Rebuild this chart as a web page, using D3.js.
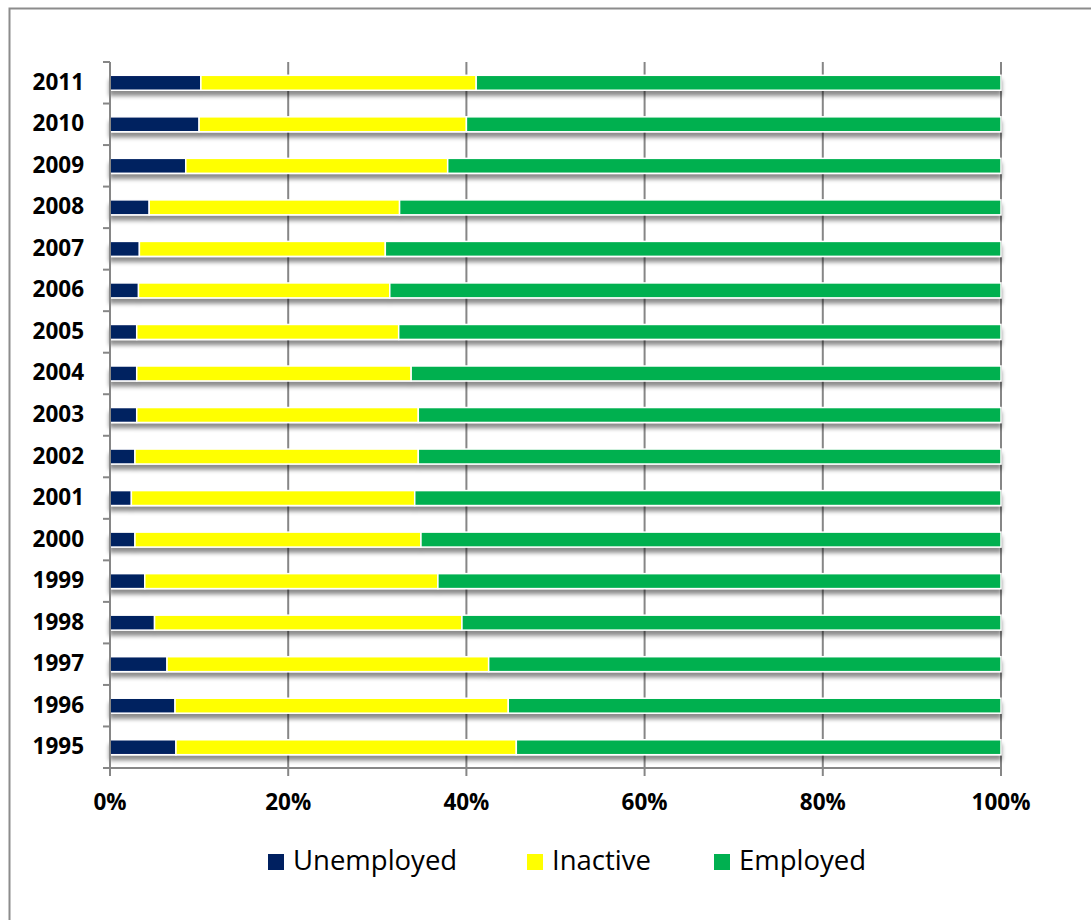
<!DOCTYPE html>
<html>
<head>
<meta charset="utf-8">
<script src="https://cdn.jsdelivr.net/npm/d3@7"></script>
<style>
  html, body { margin: 0; padding: 0; background: #fff; }
  svg { display: block; }
  text { font-family: "Open Sans", "Liberation Sans", sans-serif; }
</style>
</head>
<body>
<svg id="chart" width="1091" height="920"></svg>
<script>
const years = ["1995","1996","1997","1998","1999","2000","2001","2002","2003","2004","2005","2006","2007","2008","2009","2010","2011"];
const unemployed = [7.4, 7.3, 6.4, 5.0, 3.9, 2.8, 2.4, 2.8, 3.0, 3.0, 3.0, 3.2, 3.3, 4.4, 8.5, 10.0, 10.2];
const inactive   = [38.2, 37.4, 36.1, 34.5, 32.9, 32.1, 31.8, 31.8, 31.6, 30.8, 29.4, 28.2, 27.6, 28.1, 29.4, 30.0, 30.9];
const employed   = [54.4, 55.3, 57.5, 60.5, 63.2, 65.1, 65.8, 65.4, 65.4, 66.2, 67.6, 68.6, 69.1, 67.5, 62.1, 60.0, 58.9];
const seriesNames = ["Unemployed", "Inactive", "Employed"];
const seriesColors = ["#002060", "#FFFF00", "#00B050"];
const xTicks = [0, 0.2, 0.4, 0.6, 0.8, 1.0];

const svg = d3.select("#chart");

// outer chart border
svg.append("rect")
  .attr("x", 9.5).attr("y", 8.5)
  .attr("width", 1200).attr("height", 1000)
  .attr("fill", "none").attr("stroke", "#8c8c8c").attr("stroke-width", 2);

const defs = svg.append("defs");
const f = defs.append("filter").attr("id", "shadow")
  .attr("x", "-5%").attr("y", "-50%").attr("width", "110%").attr("height", "250%");
f.append("feDropShadow").attr("dx", 0).attr("dy", 5).attr("stdDeviation", 2.2)
  .attr("flood-color", "#000").attr("flood-opacity", 0.45);

const pLeft = 110, pRight = 1001, pTop = 62, pBottom = 768;

const x = d3.scaleLinear().domain([0, 1]).range([pLeft, pRight]);
const y = d3.scaleBand().domain(years.slice().reverse()).range([pTop, pBottom]).paddingInner(0.64).paddingOuter(0.32);
const yBand = d3.scaleBand().domain(years.slice().reverse()).range([pTop, pBottom]);

const rows = years.map((yr, i) => ({
  year: yr,
  Unemployed: unemployed[i] / 100,
  Inactive: inactive[i] / 100,
  Employed: employed[i] / 100
}));
const stacked = d3.stack().keys(seriesNames)(rows);

// gridlines
svg.append("g")
  .selectAll("line")
  .data(xTicks.slice(1))
  .join("line")
  .attr("x1", d => x(d)).attr("x2", d => x(d))
  .attr("y1", pTop).attr("y2", pBottom)
  .attr("stroke", "#868686").attr("stroke-width", 2);

// bars
const rowG = svg.append("g").selectAll("g.row")
  .data(rows)
  .join("g").attr("class", "row")
  .attr("filter", "url(#shadow)");

rowG.each(function(d, ri) {
  const g = d3.select(this);
  stacked.forEach((layer, si) => {
    const seg = layer[ri];
    g.append("rect")
      .attr("x", x(seg[0]))
      .attr("y", y(d.year))
      .attr("width", Math.max(0, x(seg[1]) - x(seg[0])))
      .attr("height", y.bandwidth())
      .attr("fill", seriesColors[si])
      .attr("stroke", "#ffffff")
      .attr("stroke-width", 1.5);
  });
});

// y axis
const yAxisG = svg.append("g");
yAxisG.append("line")
  .attr("x1", pLeft).attr("x2", pLeft).attr("y1", pTop).attr("y2", pBottom)
  .attr("stroke", "#868686").attr("stroke-width", 2);
const yBounds = years.slice().reverse().map(yr => yBand(yr)).concat([pBottom]);
yAxisG.selectAll("line.tick")
  .data(yBounds)
  .join("line").attr("class", "tick")
  .attr("x1", pLeft - 7).attr("x2", pLeft)
  .attr("y1", d => d).attr("y2", d => d)
  .attr("stroke", "#868686").attr("stroke-width", 2);
yAxisG.selectAll("text")
  .data(years)
  .join("text")
  .attr("x", 84)
  .attr("y", d => yBand(d) + yBand.bandwidth() / 2 + 1)
  .attr("text-anchor", "end")
  .attr("dominant-baseline", "middle")
  .attr("font-size", 22.5)
  .attr("font-weight", "bold")
  .attr("fill", "#000")
  .text(d => d);

// x axis
const xAxisG = svg.append("g");
xAxisG.append("line")
  .attr("x1", pLeft - 7).attr("x2", pRight).attr("y1", pBottom).attr("y2", pBottom)
  .attr("stroke", "#868686").attr("stroke-width", 2);
xAxisG.selectAll("line.tick")
  .data(xTicks)
  .join("line").attr("class", "tick")
  .attr("x1", d => x(d)).attr("x2", d => x(d))
  .attr("y1", pBottom).attr("y2", pBottom + 8)
  .attr("stroke", "#868686").attr("stroke-width", 2);
xAxisG.selectAll("text")
  .data(xTicks)
  .join("text")
  .attr("x", d => x(d))
  .attr("y", 810)
  .attr("text-anchor", "middle")
  .attr("font-size", 22.5)
  .attr("font-weight", "bold")
  .attr("fill", "#000")
  .text(d => d3.format(".0%")(d));

// legend
const legendX = [268, 527, 714];
const lg = svg.append("g");
seriesNames.forEach((name, i) => {
  lg.append("rect")
    .attr("x", legendX[i]).attr("y", 854)
    .attr("width", 16).attr("height", 16)
    .attr("fill", seriesColors[i]);
  lg.append("text")
    .attr("x", legendX[i] + 25).attr("y", 870)
    .attr("font-size", 27.5)
    .attr("fill", "#000")
    .text(name);
});
</script>
</body>
</html>
